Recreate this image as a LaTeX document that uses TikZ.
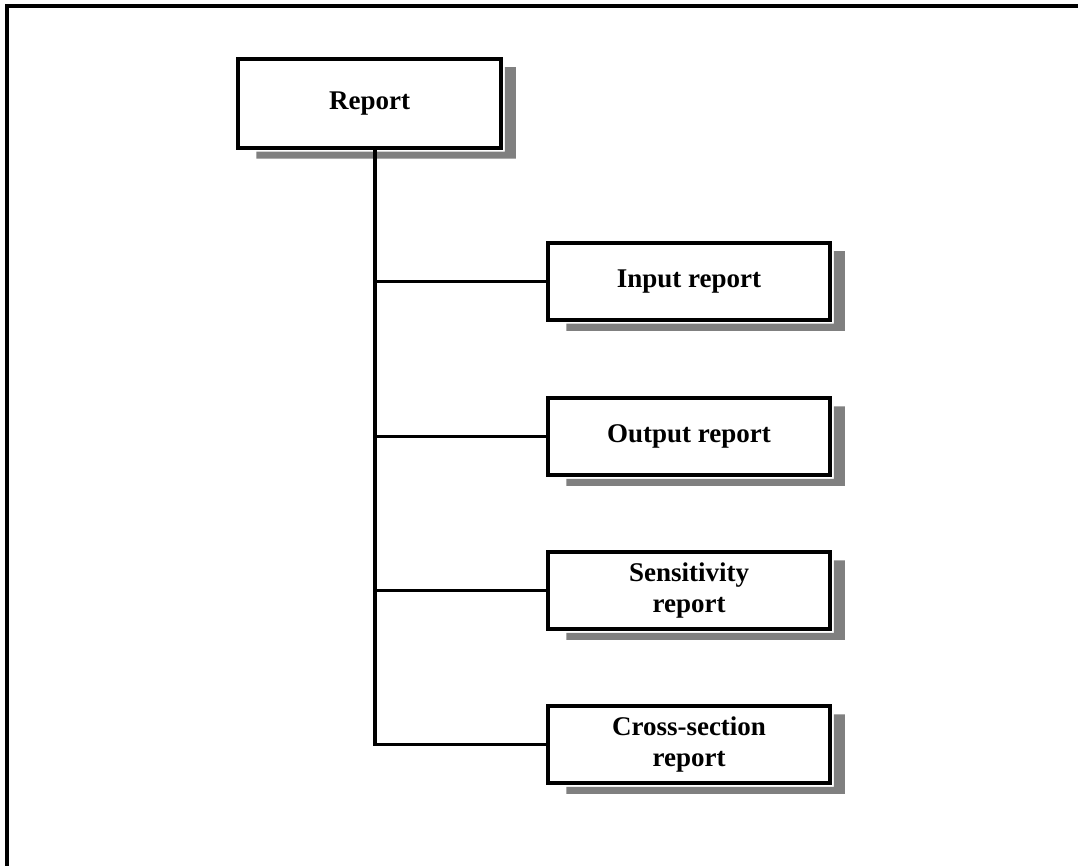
\documentclass[tikz,border=0pt]{standalone}
\usepackage{fontspec}
\setmainfont{Liberation Serif}
\begin{document}
\begin{tikzpicture}[x=1pt,y=-1pt,
  box/.style={draw, line width=3.5pt, fill=white, minimum width=282pt,
    minimum height=77pt, inner sep=0pt, align=center,
    font=\bfseries\fontsize{27}{31}\selectfont},
  shade/.style={fill=black!50},
  wire/.style={line width=3.8pt},
  frame/.style={line width=4pt}]
\useasboundingbox (0,0) rectangle (1078,866);

% page frame (top and left edges)
\coordinate (fr-tr) at (1078,6);
\coordinate (fr-tl) at (7,6);
\coordinate (fr-bl) at (7,866);
\draw[frame] (fr-tr) -- (fr-tl) -- (fr-bl);

% boxes
\node[box, minimum width=263pt, minimum height=89pt] (rep) at (369.5,103.5) {Report};
\node[box] (inp)   at (689,281.5) {Input report};
\node[box] (out)   at (689,436.5) {Output report};
\node[box] (sens)  at (689,590.5) {Sensitivity\\report};
\node[box] (cross) at (689,744.5) {Cross-section\\report};

% drop shadows
\foreach \n in {rep,inp,out,sens,cross}{
  \fill[shade] ([xshift=2pt,yshift=-10pt]\n.north east) -- ++(11,0)
    -- ([xshift=13pt,yshift=-9pt]\n.south east)
    -- ([xshift=20pt,yshift=-9pt]\n.south west)
    -- ([xshift=20pt,yshift=-2pt]\n.south west)
    -- ([xshift=2pt,yshift=-2pt]\n.south east) -- cycle;
}

% tree connectors
\coordinate (trunk) at (375,0);
\draw[wire] (rep.south -| trunk) |- (cross.west);
\draw[wire] (inp.west -| trunk) -- (inp.west);
\draw[wire] (out.west -| trunk) -- (out.west);
\draw[wire] (sens.west -| trunk) -- (sens.west);
\end{tikzpicture}
\end{document}
